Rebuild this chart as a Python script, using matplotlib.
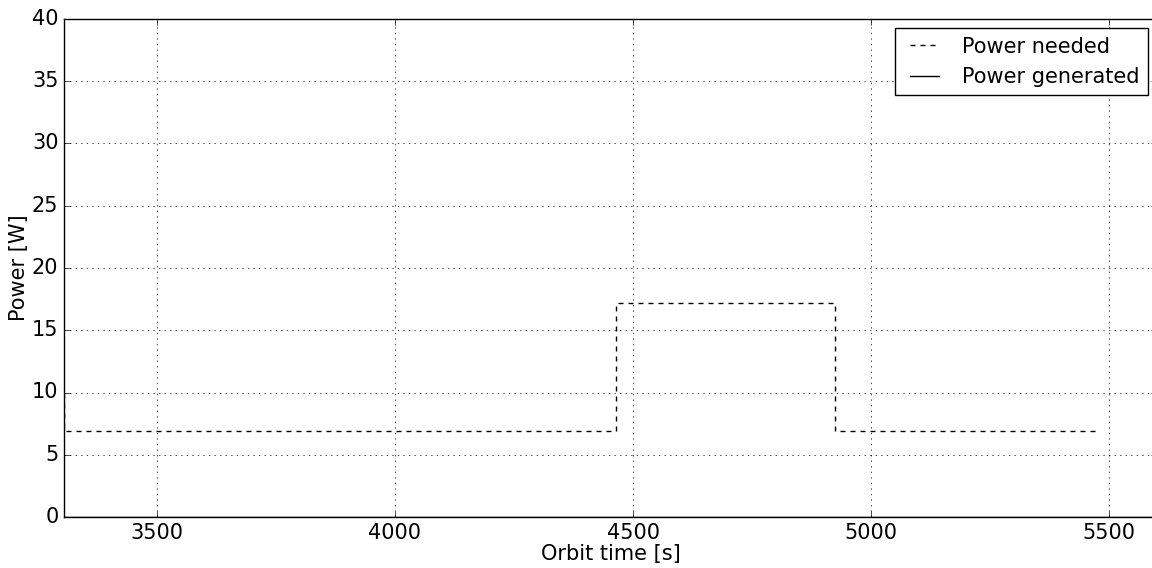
import numpy as np
import matplotlib
matplotlib.use('Agg')
import matplotlib.pyplot as plt

plt.style.use('classic')

# power needed over the orbit (step profile)
t_needed = [3305, 3305, 4464, 4464, 4924, 4924, 5477]
p_needed = [10.0, 6.9, 6.9, 17.2, 17.2, 6.9, 6.9]

# power generated (eclipse part, zero)
t_generated = [3305, 5600]
p_generated = [0.0, 0.0]

fig = plt.figure(figsize=(11.52, 5.68), dpi=100, facecolor='white')
ax = fig.add_axes([64/1152, 51/568, 1093/1152, 498/568])

ax.plot(t_needed, p_needed, color='black', linestyle='--', dashes=(3.6, 3.6),
        linewidth=1, label='Power needed')
ax.plot(t_generated, p_generated, color='black', linestyle='-', linewidth=1,
        label='Power generated')

ax.set_xlim(3305, 5600)
ax.set_ylim(0, 40)
ax.set_xticks([3500, 4000, 4500, 5000, 5500])
ax.set_yticks(np.arange(0, 41, 5))
ax.tick_params(labelsize=15)
ax.set_xlabel('Orbit time [s]', fontsize=15, labelpad=1)
ax.set_ylabel('Power [W]', fontsize=15, labelpad=2)
ax.grid(True)
ax.legend(loc='upper right', fontsize=15, borderaxespad=0.45)

fig.savefig('out.png', dpi=100, facecolor='white')
